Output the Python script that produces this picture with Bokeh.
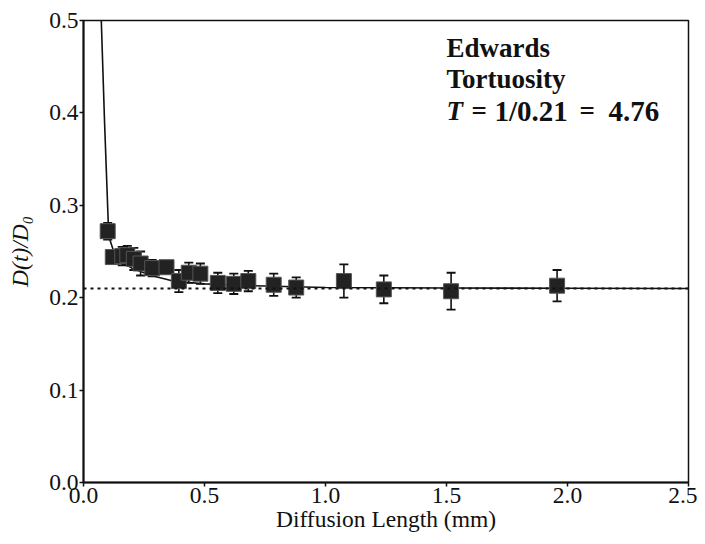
from bokeh.plotting import figure
from bokeh.models import ColumnDataSource, Whisker, Label, FixedTicker, Span, Range1d
from bokeh.embed import file_html
from bokeh.resources import INLINE

# Data
length_mm = [0.100, 0.121, 0.160, 0.181, 0.208, 0.236, 0.284, 0.343, 0.394, 0.435,
             0.483, 0.555, 0.621, 0.681, 0.786, 0.879, 1.076, 1.241, 1.519, 1.957]
d_ratio = [0.272, 0.244, 0.245, 0.246, 0.242, 0.237, 0.232, 0.233, 0.218, 0.227,
           0.226, 0.216, 0.215, 0.218, 0.214, 0.211, 0.218, 0.209, 0.207, 0.213]
d_err = [0.009, 0.007, 0.010, 0.010, 0.012, 0.013, 0.009, 0.003, 0.012, 0.011,
         0.011, 0.011, 0.011, 0.011, 0.012, 0.011, 0.018, 0.015, 0.020, 0.017]

fit_x = [0.070, 0.0735, 0.087, 0.102, 0.110, 0.130, 0.160, 0.200, 0.280, 0.370,
         0.500, 0.700, 1.000, 1.500, 2.000, 2.500]
fit_y = [0.520, 0.500, 0.390, 0.283, 0.262, 0.246, 0.238, 0.232, 0.224, 0.218,
         0.215, 0.213, 0.211, 0.2105, 0.2103, 0.2100]

tortuosity_level = 0.21
x_ticks = [0.0, 0.5, 1.0, 1.5, 2.0, 2.5]
y_ticks = [0.0, 0.1, 0.2, 0.3, 0.4, 0.5]

FONT = "Liberation Serif"

p = figure(width=697, height=536, output_backend="svg", toolbar_location=None,
           x_range=Range1d(0, 2.5), y_range=Range1d(0, 0.5),
           min_border_left=83, min_border_right=9, min_border_top=20, min_border_bottom=54)
p.grid.visible = False
p.background_fill_color = "white"
p.border_fill_color = "white"
p.outline_line_color = "#111111"
p.outline_line_width = 1.5

for ax in (p.xaxis[0], p.yaxis[0]):
    ax.axis_line_width = 2
    ax.axis_line_color = "#111111"
    ax.major_tick_line_color = "#111111"
    ax.major_tick_line_width = 1.5
    ax.major_tick_out = 4
    ax.major_tick_in = 0
    ax.minor_tick_line_color = None
    ax.major_label_text_font = FONT
    ax.major_label_text_font_size = "23.5px"
    ax.major_label_text_color = "#111111"
    ax.axis_label_text_font = FONT
    ax.axis_label_text_font_size = "23.5px"
    ax.axis_label_text_color = "#111111"
    ax.major_label_standoff = 1
    ax.axis_label_standoff = 0

p.xaxis.ticker = FixedTicker(ticks=x_ticks)
p.yaxis.ticker = FixedTicker(ticks=y_ticks)
p.xaxis.major_label_overrides = {t: f"{t:.1f}" for t in x_ticks}
p.yaxis.major_label_overrides = {t: f"{t:.1f}" for t in y_ticks}
p.xaxis.axis_label = "Diffusion Length (mm)"
p.xaxis.axis_label_text_font_style = "normal"
p.yaxis.axis_label = "D(t)/D\u2080"
p.yaxis.axis_label_text_font_style = "italic"
p.yaxis.axis_label_standoff = 13

p.add_layout(Span(location=tortuosity_level, dimension="width", line_color="#111111",
                  line_width=2, line_dash="3 4"))

p.line(fit_x, fit_y, line_color="#111111", line_width=1.6)

src = ColumnDataSource(dict(x=length_mm, y=d_ratio,
                            lo=[v - e for v, e in zip(d_ratio, d_err)],
                            hi=[v + e for v, e in zip(d_ratio, d_err)]))
w = Whisker(source=src, base="x", lower="lo", upper="hi", line_color="#111111",
            line_width=1.6)
w.upper_head.size = 9
w.lower_head.size = 9
w.upper_head.line_width = 1.8
w.lower_head.line_width = 1.8
w.upper_head.line_color = "#111111"
w.lower_head.line_color = "#111111"
p.add_layout(w)

p.scatter("x", "y", source=src, marker="square", size=15, fill_color="#222222",
          line_color="#555555", line_width=1)

txt = dict(text_font=FONT, text_font_size="27px", text_font_style="bold",
           text_color="#111111", text_baseline="middle")
p.add_layout(Label(x=1.5, y=0.4698, text="Edwards", **txt))
p.add_layout(Label(x=1.5, y=0.4370, text="Tortuosity", **txt))
ty = 0.4016
p.add_layout(Label(x=1.5, y=ty, text="T", text_font=FONT, text_font_size="27px",
                   text_font_style="bold italic", text_color="#111111",
                   text_baseline="middle"))
p.add_layout(Label(x=1.5, y=ty, x_offset=25, text="=", **txt))
p.add_layout(Label(x=1.5, y=ty, x_offset=48, text="1/0.21", text_font=FONT,
                   text_font_size="29px", text_font_style="bold", text_color="#111111",
                   text_baseline="middle"))
p.add_layout(Label(x=1.5, y=ty, x_offset=133, text="=", **txt))
p.add_layout(Label(x=1.5, y=ty, x_offset=162, text="4.76", text_font=FONT,
                   text_font_size="29px", text_font_style="bold", text_color="#111111",
                   text_baseline="middle"))

open("out.html", "w").write(file_html(p, INLINE))
